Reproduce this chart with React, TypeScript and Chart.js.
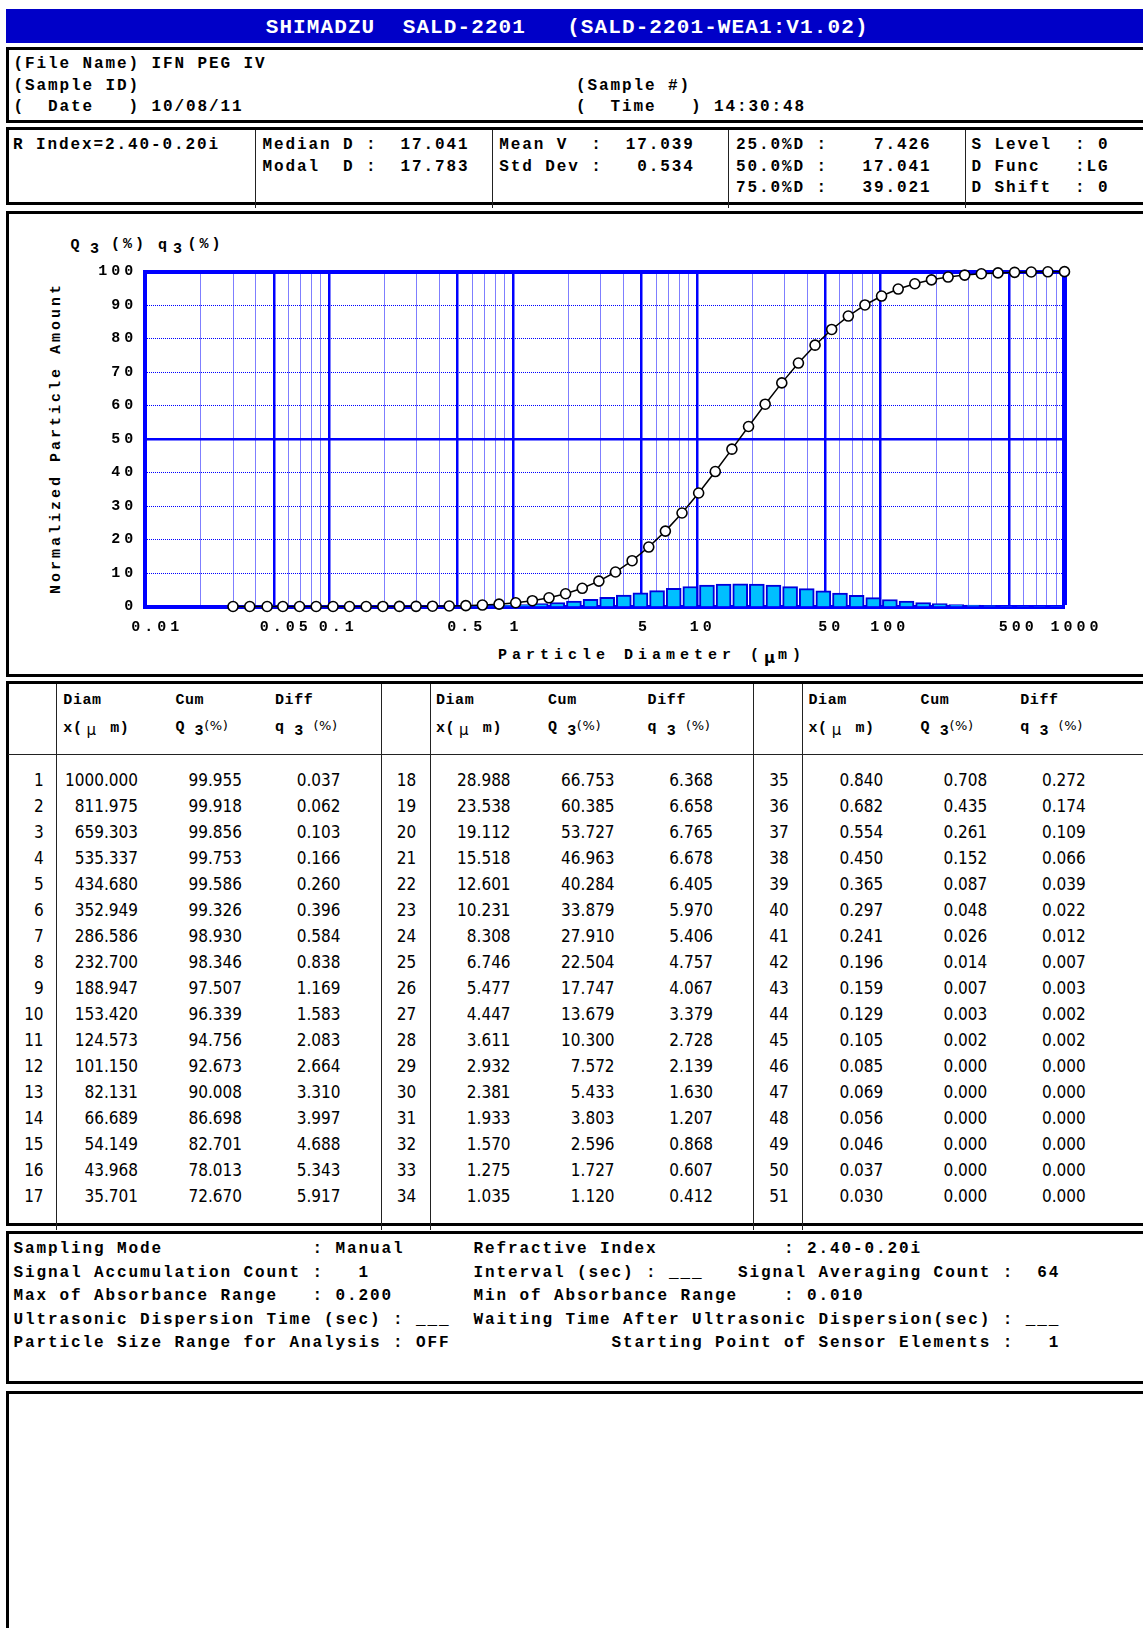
import React, { useEffect, useRef } from "react";
import { Chart, registerables } from "chart.js";

Chart.register(...registerables);

// ---------------- data ----------------
const diameters = [1000.0, 811.975, 659.303, 535.337, 434.68, 352.949, 286.586, 232.7, 188.947, 153.42, 124.573, 101.15, 82.131, 66.689, 54.149, 43.968, 35.701, 28.988, 23.538, 19.112, 15.518, 12.601, 10.231, 8.308, 6.746, 5.477, 4.447, 3.611, 2.932, 2.381, 1.933, 1.57, 1.275, 1.035, 0.84, 0.682, 0.554, 0.45, 0.365, 0.297, 0.241, 0.196, 0.159, 0.129, 0.105, 0.085, 0.069, 0.056, 0.046, 0.037, 0.03];
const cumulative = [99.955, 99.918, 99.856, 99.753, 99.586, 99.326, 98.93, 98.346, 97.507, 96.339, 94.756, 92.673, 90.008, 86.698, 82.701, 78.013, 72.67, 66.753, 60.385, 53.727, 46.963, 40.284, 33.879, 27.91, 22.504, 17.747, 13.679, 10.3, 7.572, 5.433, 3.803, 2.596, 1.727, 1.12, 0.708, 0.435, 0.261, 0.152, 0.087, 0.048, 0.026, 0.014, 0.007, 0.003, 0.002, 0, 0, 0, 0, 0, 0];
const differential = [0.037, 0.062, 0.103, 0.166, 0.26, 0.396, 0.584, 0.838, 1.169, 1.583, 2.083, 2.664, 3.31, 3.997, 4.688, 5.343, 5.917, 6.368, 6.658, 6.765, 6.678, 6.405, 5.97, 5.406, 4.757, 4.067, 3.379, 2.728, 2.139, 1.63, 1.207, 0.868, 0.607, 0.412, 0.272, 0.174, 0.109, 0.066, 0.039, 0.022, 0.012, 0.007, 0.003, 0.002, 0.002, 0, 0, 0, 0, 0, 0];

const xGridValues = [0.01, 0.02, 0.03, 0.04, 0.05, 0.06, 0.07, 0.08, 0.09, 0.1, 0.2, 0.3, 0.4, 0.5, 0.6, 0.7, 0.8, 0.9, 1, 2, 3, 4, 5, 6, 7, 8, 9, 10, 20, 30, 40, 50, 60, 70, 80, 90, 100, 200, 300, 400, 500, 600, 700, 800, 900, 1000];
const xLabelValues = [0.01, 0.05, 0.1, 0.5, 1, 5, 10, 50, 100, 500, 1000];
const xLabelTexts = ["0.01", "0.05", "0.1", "0.5", "1", "5", "10", "50", "100", "500", "1000"];
const xMajorValues = [0.05, 0.1, 0.5, 1, 5, 10, 50, 100, 500];
const yTickValues = [0, 10, 20, 30, 40, 50, 60, 70, 80, 90, 100];

const titleText = "SHIMADZU  SALD-2201   (SALD-2201-WEA1:V1.02)";
const fileInfoLeft = ["(File Name) IFN PEG IV", "(Sample ID)", "(  Date   ) 10/08/11"];
const fileInfoRight = ["", "(Sample #)", "(  Time   ) 14:30:48"];
const statColumns = [
  ["R Index=2.40-0.20i"],
  ["Median D :  17.041", "Modal  D :  17.783"],
  ["Mean V  :  17.039", "Std Dev :   0.534"],
  ["25.0%D :    7.426", "50.0%D :   17.041", "75.0%D :   39.021"],
  ["S Level  : 0", "D Func   :LG", "D Shift  : 0"],
];
const settingsRows: [number, string][][] = [
  [[0, "Sampling Mode"], [26, ": Manual"], [40, "Refractive Index"], [67, ": 2.40-0.20i"]],
  [[0, "Signal Accumulation Count :"], [30, "1"], [40, "Interval (sec) : ___"], [63, "Signal Averaging Count :"], [89, "64"]],
  [[0, "Max of Absorbance Range"], [26, ": 0.200"], [40, "Min of Absorbance Range"], [67, ": 0.010"]],
  [[0, "Ultrasonic Dispersion Time (sec) : ___"], [40, "Waiting Time After Ultrasonic Dispersion(sec) : ___"]],
  [[0, "Particle Size Range for Analysis : OFF"], [52, "Starting Point of Sensor Elements :"], [90, "1"]],
];

// ---------------- styles ----------------
const MONO = '"Liberation Mono", "DejaVu Sans Mono", monospace';
const SANS = '"DejaVu Sans", Verdana, sans-serif';
const BLUE = "#0000ff";

const placeCols = (segs: [number, string][]) => {
  let s = "";
  for (const [col, txt] of segs) s = s.padEnd(col, " ") + txt;
  return s;
};

const monoText: React.CSSProperties = {
  position: "absolute",
  fontFamily: MONO,
  fontWeight: "bold",
  fontSize: 16,
  letterSpacing: "1.9px",
  whiteSpace: "pre",
  color: "#000",
};

const box = (top: number, height: number): React.CSSProperties => ({
  position: "absolute",
  left: 5.5,
  top,
  width: 1200,
  height,
  border: "3px solid #000",
  boxSizing: "border-box",
});

const letterSpacingPlugin = {
  id: "tickLetterSpacing",
  beforeDraw(chart: any) {
    chart.ctx.letterSpacing = "4px";
  },
  afterDraw(chart: any) {
    chart.ctx.letterSpacing = "0px";
  },
};

// x tick labels, drawn at the positions given by the x scale
const xLabelPlugin = {
  id: "xTickLabels",
  afterDraw(chart: any) {
    const scale = chart.scales.x;
    const ctx = chart.ctx;
    ctx.save();
    ctx.font = 'bold 15px "Liberation Mono"';
    ctx.letterSpacing = "4px";
    ctx.fillStyle = "#000";
    ctx.textAlign = "left";
    ctx.textBaseline = "middle";
    xLabelValues.forEach((v, i) => {
      const t = xLabelTexts[i];
      ctx.fillText(t, scale.getPixelForValue(v) - 3.5 * t.length, chart.chartArea.bottom + 21);
    });
    ctx.restore();
  },
};

function ParticleChart() {
  const ref = useRef<HTMLCanvasElement>(null);
  useEffect(() => {
    const linePoints = diameters.map((d, i) => ({ x: d, y: cumulative[i] }));
    const barPoints = diameters
      .slice(0, -1)
      .map((d, i) => ({ x: Math.sqrt(d * diameters[i + 1]), y: differential[i] }));
    const tickFont = { family: "Liberation Mono", size: 15, weight: "bold" as const };
    const chart = new Chart(ref.current as HTMLCanvasElement, {
      type: "line",
      data: {
        datasets: [
          {
            type: "line",
            label: "Q3",
            data: linePoints,
            borderColor: "#000",
            borderWidth: 1.5,
            pointRadius: 5,
            pointBackgroundColor: "#fff",
            pointBorderColor: "#000",
            pointBorderWidth: 1.6,
            tension: 0,
            order: 0,
            clip: false,
          } as any,
          {
            type: "bar",
            label: "q3",
            data: barPoints,
            backgroundColor: "#00bfff",
            borderColor: "#0000dd",
            borderWidth: 2,
            barThickness: "flex",
            barPercentage: 0.9,
            categoryPercentage: 1,
            order: 1,
          } as any,
        ],
      },
      options: {
        animation: false,
        responsive: false,
        events: [],
        layout: { padding: { top: 57.5, right: 78.5, bottom: 0, left: 0 } },
        plugins: { legend: { display: false }, tooltip: { enabled: false }, title: { display: false } },
        scales: {
          x: {
            type: "logarithmic",
            min: 0.01,
            max: 1000,
            offset: false,
            position: "bottom",
            afterBuildTicks: (s: any) => {
              s.ticks = xGridValues.map((v) => ({ value: v }));
            },
            afterFit: (s: any) => {
              s.height = 67.5;
            },
            grid: {
              offset: false,
              drawTicks: false,
              color: BLUE,
              lineWidth: (c: any) => {
                const v = c.tick ? c.tick.value : undefined;
                if (v === undefined) return 1;
                if (v === 0.01) return 0;
                if (v === 1000) return 5;
                return xMajorValues.includes(v) ? 2.5 : 1;
              },
            },
            border: {
              display: true,
              color: BLUE,
              width: 4,
              dash: (c: any) => {
                const v = c.tick ? c.tick.value : undefined;
                if (v === undefined || v === 1000 || xMajorValues.includes(v)) return [];
                return [1, 1];
              },
            },
            ticks: { display: false, autoSkip: false, maxRotation: 0, minRotation: 0 },
          } as any,
          y: {
            type: "linear",
            min: 0,
            max: 100,
            afterBuildTicks: (s: any) => {
              s.ticks = yTickValues.map((v) => ({ value: v }));
            },
            afterFit: (s: any) => {
              s.width = 136.3;
            },
            grid: {
              drawTicks: false,
              color: BLUE,
              lineWidth: (c: any) => {
                const v = c.tick ? c.tick.value : undefined;
                if (v === undefined) return 1;
                if (v === 0) return 0;
                if (v === 100) return 4;
                if (v === 50) return 2.5;
                return 1;
              },
            },
            border: {
              display: true,
              color: BLUE,
              width: 4,
              dash: (c: any) => {
                const v = c.tick ? c.tick.value : undefined;
                if (v === undefined || v === 0 || v === 50 || v === 100) return [];
                return [1, 1];
              },
            },
            ticks: {
              padding: 8,
              color: "#000",
              font: tickFont,
              callback: (v: any) => String(v),
            },
          } as any,
        },
      },
      plugins: [letterSpacingPlugin, xLabelPlugin],
    });
    return () => chart.destroy();
  }, []);
  return (
    <canvas
      ref={ref}
      width={1134}
      height={460}
      style={{ position: "absolute", left: 9, top: 214, width: 1134, height: 460 }}
    />
  );
}

function DataTable() {
  const groupPitch = 372.6;
  const rowTop = 779.5;
  const rowPitch = 26;
  const rights = [43.6, 138, 242, 340.5];
  const dividers = [56, 381, 430, 753.6, 802.4];
  const headLefts = [63.3, 175.4, 275];
  const cells: React.ReactNode[] = [];
  const cellStyle = (right: number, y: number): React.CSSProperties => ({
    position: "absolute",
    left: right - 120,
    width: 120,
    top: y - 11,
    height: 22,
    lineHeight: "22px",
    textAlign: "right",
    fontFamily: SANS,
    fontStretch: "condensed",
    fontSize: 17,
    color: "#000",
  });
  diameters.forEach((d, i) => {
    const g = Math.floor(i / 17);
    const r = i % 17;
    const y = rowTop + r * rowPitch;
    const off = g * groupPitch;
    const vals = [String(i + 1), d.toFixed(3), cumulative[i].toFixed(3), differential[i].toFixed(3)];
    vals.forEach((t, k) => {
      cells.push(
        <div key={`c${i}-${k}`} style={cellStyle(rights[k] + off, y)}>
          {t}
        </div>
      );
    });
  });
  const head: React.CSSProperties = {
    position: "absolute",
    fontFamily: MONO,
    fontWeight: "bold",
    fontSize: 15,
    letterSpacing: "0.6px",
    whiteSpace: "pre",
    height: 22,
    lineHeight: "22px",
    color: "#000",
  };
  const pct: React.CSSProperties = { fontSize: 13, position: "relative", top: -1, fontWeight: "normal", fontFamily: SANS };
  const headers: React.ReactNode[] = [];
  for (let g = 0; g < 3; g++) {
    const off = g * groupPitch;
    headers.push(
      <div key={`h1-${g}`} style={{ ...head, left: headLefts[0] + off, top: 700.7 - 11 }}>Diam</div>,
      <div key={`h2-${g}`} style={{ ...head, left: headLefts[1] + off, top: 700.7 - 11 }}>Cum</div>,
      <div key={`h3-${g}`} style={{ ...head, left: headLefts[2] + off, top: 700.7 - 11 }}>Diff</div>,
      <div key={`h4-${g}`} style={{ ...head, left: headLefts[0] + off, top: 726.6 - 11 }}>
        x(<span style={{ fontFamily: SANS, fontWeight: "normal", position: "relative", top: 3, margin: "0 4px" }}>μ</span> m)
      </div>,
      <div key={`h5-${g}`} style={{ ...head, left: headLefts[1] + off, top: 726.6 - 11 }}>
        Q <span style={{ position: "relative", top: 4 }}>3</span>
        <span style={pct}>(%)</span>
      </div>,
      <div key={`h6-${g}`} style={{ ...head, left: headLefts[2] + off, top: 726.6 - 11 }}>
        q <span style={{ position: "relative", top: 4 }}>3</span>{" "}
        <span style={pct}>(%)</span>
      </div>
    );
  }
  return (
    <>
      <div style={box(681, 545)} />
      {dividers.map((x, i) => (
        <div key={`d${i}`} style={{ position: "absolute", left: x - 0.5, top: 684, width: 1, height: 546, background: "#222" }} />
      ))}
      <div style={{ position: "absolute", left: 8, top: 754, width: 1140, height: 1, background: "#222" }} />
      {headers}
      {cells}
    </>
  );
}

export default function App() {
  const statLefts = [13, 262.4, 499.3, 736, 971.6];
  const statDividers = [255.8, 492.7, 728.9, 965.7];
  return (
    <div
      style={{
        position: "absolute",
        left: 0,
        top: 0,
        width: 1143,
        height: 1628,
        overflow: "hidden",
        background: "#fff",
      }}
    >
      {/* title bar */}
      <div style={{ position: "absolute", left: 6, top: 9, width: 1200, height: 34, background: "#0000c8" }} />
      <div
        style={{
          position: "absolute",
          left: 265.7,
          top: 11,
          lineHeight: "34px",
          fontFamily: MONO,
          fontWeight: "bold",
          fontSize: 21,
          letterSpacing: "1.1px",
          whiteSpace: "pre",
          color: "#fff",
        }}
      >
        {titleText}
      </div>

      {/* file info */}
      <div style={box(47, 76)} />
      {fileInfoLeft.map((t, i) => (
        <div key={`fl${i}`} style={{ ...monoText, left: 13.5, top: 64 + i * 21.5 - 11, lineHeight: "22px" }}>
          {t}
        </div>
      ))}
      {fileInfoRight.map((t, i) => (
        <div key={`fr${i}`} style={{ ...monoText, left: 576, top: 64 + i * 21.5 - 11, lineHeight: "22px" }}>
          {t}
        </div>
      ))}

      {/* stats */}
      <div style={box(127, 78)} />
      {statDividers.map((x, i) => (
        <div key={`sd${i}`} style={{ position: "absolute", left: x - 0.5, top: 130, width: 1, height: 78, background: "#222" }} />
      ))}
      {statColumns.map((col, ci) =>
        col.map((t, ri) => (
          <div key={`s${ci}-${ri}`} style={{ ...monoText, left: statLefts[ci], top: 145 + ri * 21.5 - 11, lineHeight: "22px" }}>
            {t}
          </div>
        ))
      )}

      {/* chart */}
      <div style={box(211, 466)} />
      <div style={{ ...monoText, fontSize: 15, letterSpacing: "3px", left: 70.6, top: 246 - 11, lineHeight: "22px" }}>Q</div>
      <div style={{ ...monoText, fontSize: 15, left: 90, top: 250 - 11, lineHeight: "22px" }}>3</div>
      <div style={{ ...monoText, fontSize: 15, letterSpacing: "3px", left: 111, top: 245 - 11, lineHeight: "22px" }}>(%)</div>
      <div style={{ ...monoText, fontSize: 15, left: 158, top: 246 - 11, lineHeight: "22px" }}>q</div>
      <div style={{ ...monoText, fontSize: 15, left: 173, top: 250 - 11, lineHeight: "22px" }}>3</div>
      <div style={{ ...monoText, fontSize: 15, letterSpacing: "3px", left: 187.5, top: 245 - 11, lineHeight: "22px" }}>(%)</div>
      <div
        style={{
          ...monoText,
          fontSize: 15,
          letterSpacing: "3px",
          left: 57 - 170,
          top: 438 - 11,
          width: 340,
          lineHeight: "22px",
          textAlign: "center",
          transform: "rotate(-90deg)",
        }}
      >
        Normalized Particle Amount
      </div>
      <div style={{ ...monoText, fontSize: 15, letterSpacing: "5px", left: 498, top: 654 - 11, lineHeight: "22px" }}>
        Particle Diameter (
        <span style={{ fontFamily: SANS, position: "relative", top: 4, letterSpacing: "3px" }}>μ</span>m)
      </div>
      <ParticleChart />

      {/* table */}
      <DataTable />

      {/* settings */}
      <div style={box(1231, 153)} />
      {settingsRows.map((segs, i) => (
        <div key={`st${i}`} style={{ ...monoText, left: 13.5, top: 1249 + i * 23.5 - 11, lineHeight: "22px" }}>
          {placeCols(segs)}
        </div>
      ))}

      {/* empty comment box */}
      <div style={box(1391, 300)} />
    </div>
  );
}
